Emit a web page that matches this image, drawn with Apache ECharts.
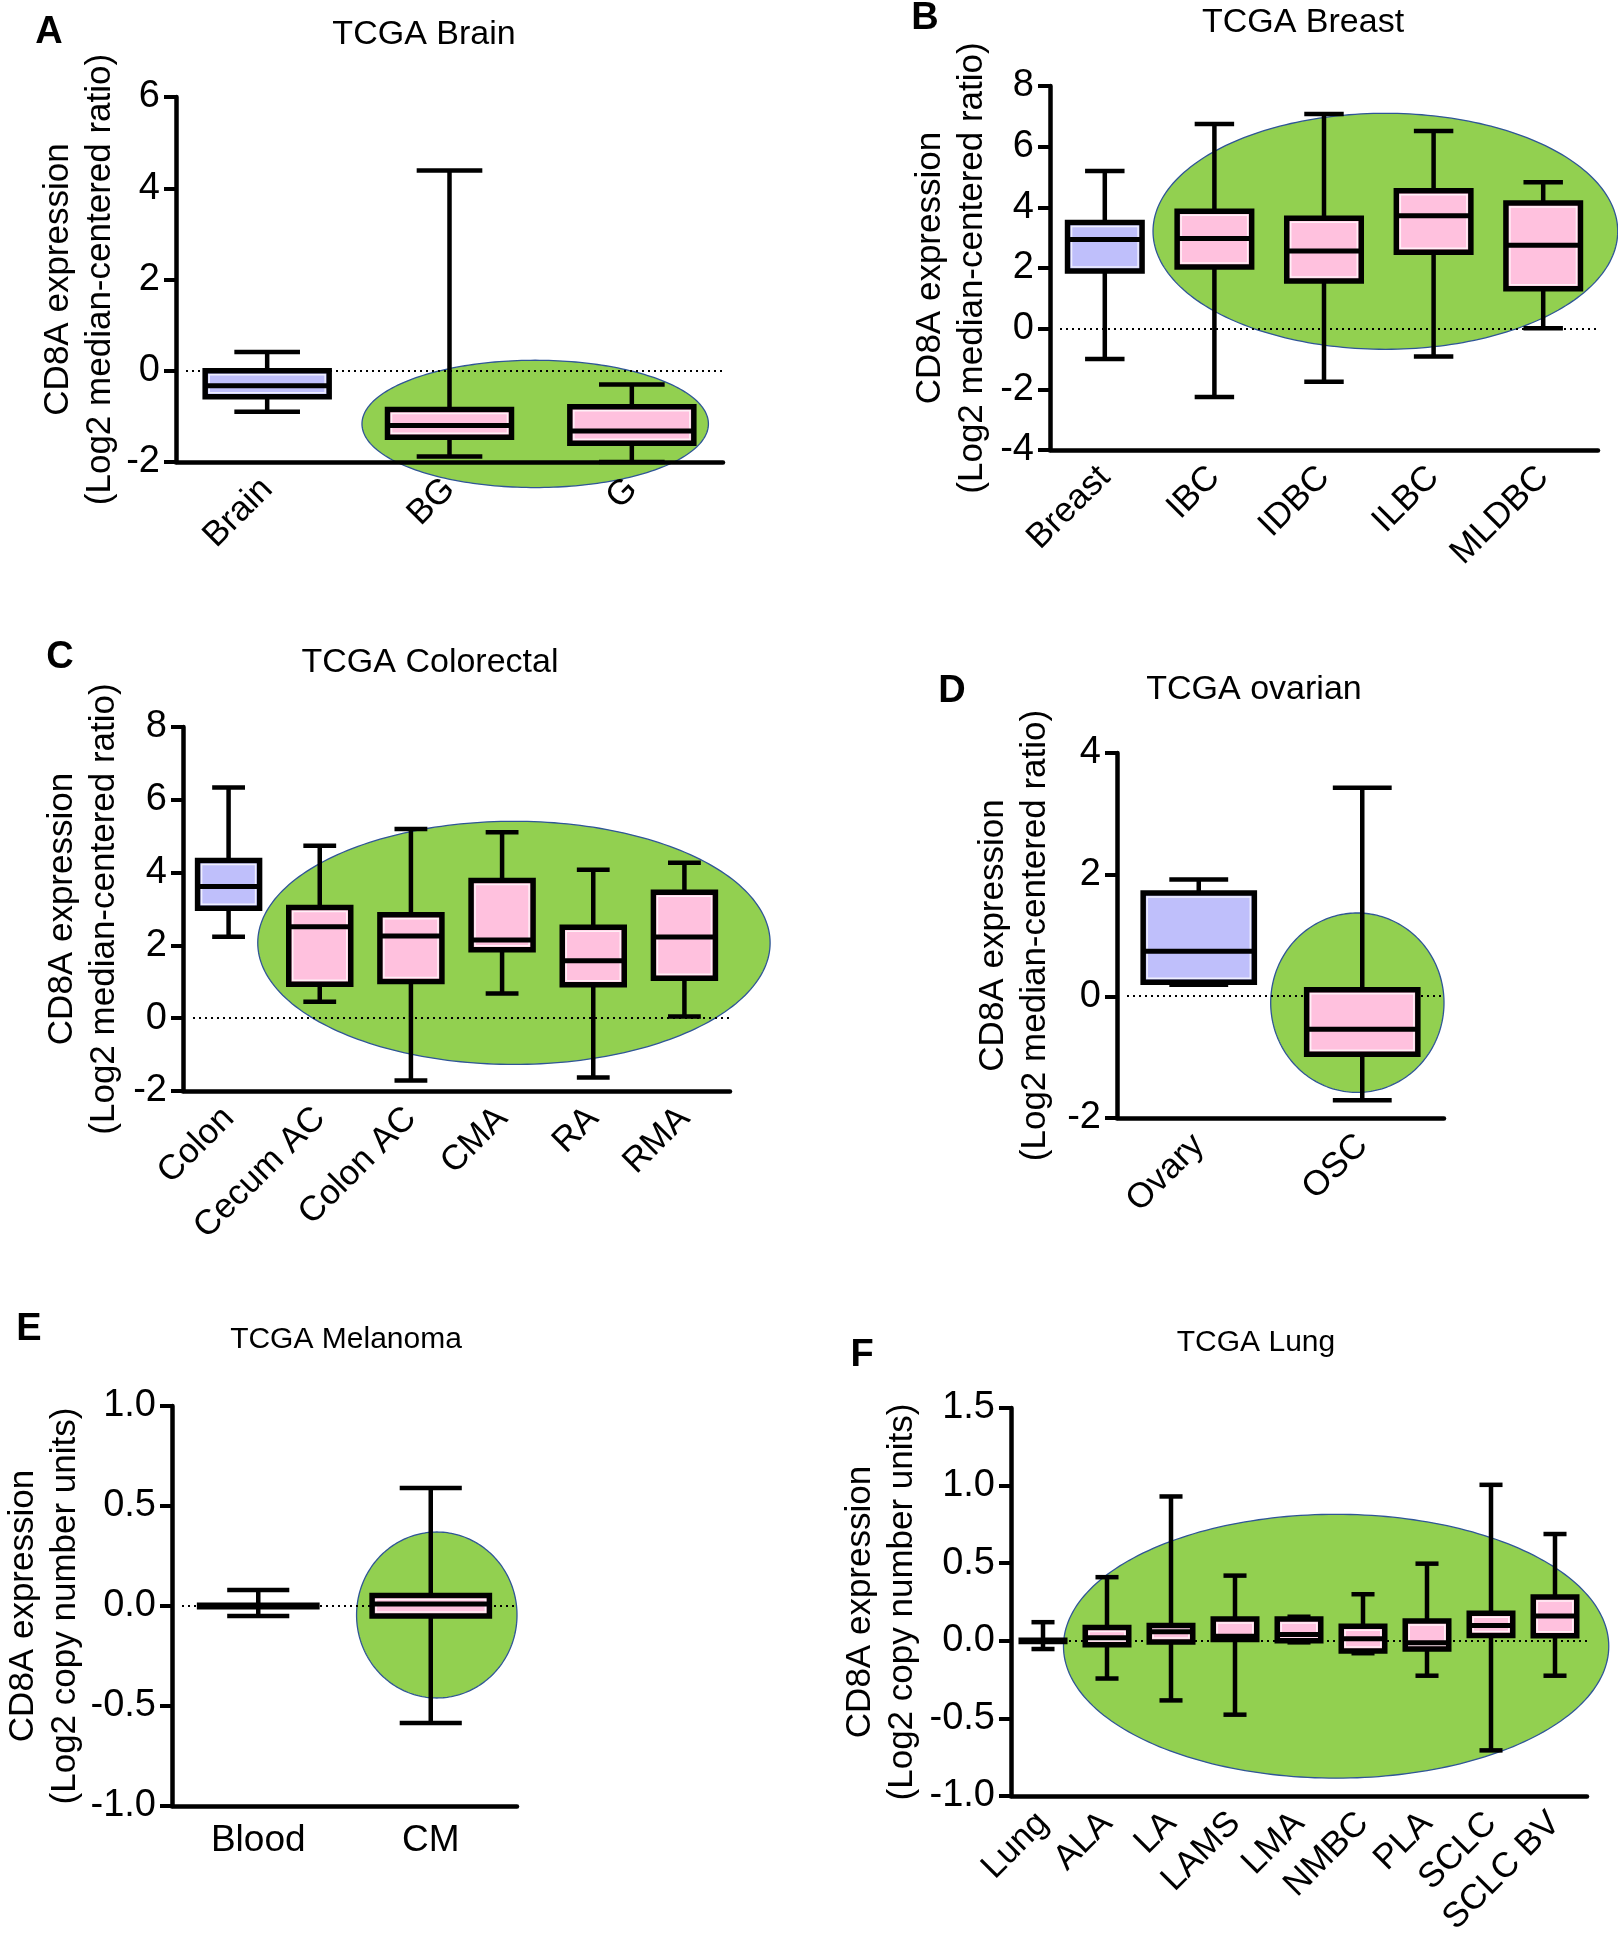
<!DOCTYPE html>
<html>
<head>
<meta charset="utf-8">
<script src="https://cdn.jsdelivr.net/npm/echarts@6/dist/echarts.min.js"></script>
<style>
html, body { margin: 0; padding: 0; background: #fff; }
#main { width: 1618px; height: 1950px; }
</style>
</head>
<body>
<div id="main"></div>
<script>
// box values are [min, q1, median, q3, max]
var brainCats = ['Brain', 'BG', 'G'];
var brainBoxes = [
    [-0.90, -0.57, -0.33, 0.00, 0.41],
    [-1.88, -1.46, -1.20, -0.85, 4.39],
    [-2.00, -1.59, -1.32, -0.79, -0.30]
];
var breastCats = ['Breast', 'IBC', 'IDBC', 'ILBC', 'MLDBC'];
var breastBoxes = [
    [-1.00, 1.90, 2.94, 3.50, 5.20],
    [-2.25, 2.03, 2.97, 3.87, 6.75],
    [-1.75, 1.57, 2.56, 3.64, 7.08],
    [-0.92, 2.52, 3.72, 4.55, 6.52],
    [0.01, 1.32, 2.75, 4.14, 4.83]
];
var colorectalCats = ['Colon', 'Cecum AC', 'Colon AC', 'CMA', 'RA', 'RMA'];
var colorectalBoxes = [
    [2.24, 3.02, 3.62, 4.33, 6.34],
    [0.45, 0.93, 2.51, 3.04, 4.74],
    [-1.71, 1.01, 2.26, 2.84, 5.20],
    [0.68, 1.88, 2.15, 3.78, 5.11],
    [-1.63, 0.92, 1.58, 2.50, 4.08],
    [0.05, 1.10, 2.23, 3.46, 4.27]
];
var ovarianCats = ['Ovary', 'OSC'];
var ovarianBoxes = [
    [0.19, 0.23, 0.74, 1.70, 1.92],
    [-1.71, -0.95, -0.54, 0.11, 3.43]
];
var melanomaCats = ['Blood', 'CM'];
var melanomaBoxes = [
    [-0.05, -0.004, 0.00, 0.004, 0.08],
    [-0.585, -0.05, 0.01, 0.052, 0.59]
];
var lungCats = ['Lung', 'ALA', 'LA', 'LAMS', 'LMA', 'NMBC', 'PLA', 'SCLC', 'SCLC BV'];
var lungBoxes = [
    [-0.053, -0.004, 0.00, 0.004, 0.12],
    [-0.243, -0.026, 0.02, 0.085, 0.41],
    [-0.384, -0.008, 0.058, 0.098, 0.93],
    [-0.476, 0.008, 0.03, 0.14, 0.42],
    [-0.01, 0.00, 0.04, 0.14, 0.155],
    [-0.08, -0.066, 0.013, 0.093, 0.30],
    [-0.225, -0.053, -0.013, 0.127, 0.497],
    [-0.706, 0.034, 0.098, 0.177, 1.005],
    [-0.225, 0.032, 0.159, 0.283, 0.688]
];
// green highlight ovals: [from index, to index, top value, bottom value]
var brainOval = [0.52, 2.42, 0.23, -2.56];
var breastOval = [0.44, 4.68, 7.10, -0.68];
var colorectalOval = [0.32, 5.94, 5.41, -1.27];
var ovarianOval = [0.44, 1.50, 1.37, -1.58];
var melanomaOval = [0.57, 1.50, 0.37, -0.46];
var lungOval = [0.32, 8.84, 0.815, -0.885];

var FONT = '"Liberation Sans", Arial, Helvetica, sans-serif';
var BLUE = '#bfbffb', PINK = '#ffc1de', GREEN = '#92d050', EDGE = '#2f5597';

var panels = [
    { letter: 'A', title: 'TCGA Brain', cats: brainCats, boxes: brainBoxes, oval: brainOval,
      grid: { left: 176, top: 97, width: 547, height: 365 }, y: [-2, 6, 2], dec: 0,
      name: 'CD8A expression\n(Log2 median-centered ratio)', gap: 55, rot: 45,
      lpos: [49, 33], tpos: [424, 35], tsize: 34 },
    { letter: 'B', title: 'TCGA Breast', cats: breastCats, boxes: breastBoxes, oval: breastOval,
      grid: { left: 1050, top: 86, width: 548, height: 364 }, y: [-4, 8, 2], dec: 0,
      name: 'CD8A expression\n(Log2 median-centered ratio)', gap: 57, rot: 45,
      lpos: [925, 19], tpos: [1303, 23], tsize: 34 },
    { letter: 'C', title: 'TCGA Colorectal', cats: colorectalCats, boxes: colorectalBoxes, oval: colorectalOval,
      grid: { left: 183, top: 727, width: 547, height: 364 }, y: [-2, 8, 2], dec: 0,
      name: 'CD8A expression\n(Log2 median-centered ratio)', gap: 58, rot: 45,
      lpos: [60, 658], tpos: [430, 663], tsize: 34 },
    { letter: 'D', title: 'TCGA ovarian', cats: ovarianCats, boxes: ovarianBoxes, oval: ovarianOval,
      grid: { left: 1117, top: 753, width: 327, height: 365 }, y: [-2, 4, 2], dec: 0,
      name: 'CD8A expression\n(Log2 median-centered ratio)', gap: 61, rot: 45,
      lpos: [952, 692], tpos: [1254, 690], tsize: 34 },
    { letter: 'E', title: 'TCGA Melanoma', cats: melanomaCats, boxes: melanomaBoxes, oval: melanomaOval,
      grid: { left: 172, top: 1406, width: 345, height: 400 }, y: [-1, 1, 0.5], dec: 1,
      name: 'CD8A expression\n(Log2 copy number units)', gap: 84, rot: 0,
      lpos: [29, 1330], tpos: [346, 1340], tsize: 30 },
    { letter: 'F', title: 'TCGA Lung', cats: lungCats, boxes: lungBoxes, oval: lungOval,
      grid: { left: 1011, top: 1408, width: 576, height: 388 }, y: [-1, 1.5, 0.5], dec: 1,
      name: 'CD8A expression\n(Log2 copy number units)', gap: 88, rot: 45,
      lpos: [862, 1356], tpos: [1256, 1343], tsize: 30 }
];

function boxItem(params, api) {
    var i = api.value(0);
    var band = api.size([1, 0])[0];
    var lo = api.coord([i, api.value(1)]);
    var q1 = api.coord([i, api.value(2)]);
    var md = api.coord([i, api.value(3)]);
    var q3 = api.coord([i, api.value(4)]);
    var hi = api.coord([i, api.value(5)]);
    var x = lo[0], hb = band * 0.34, hc = band * 0.18;
    var ln = { stroke: '#000', lineWidth: 4.5 };
    var h = Math.max(q1[1] - q3[1], 1);
    var kids = [
        { type: 'line', shape: { x1: x, y1: hi[1], x2: x, y2: lo[1] }, style: ln },
        { type: 'line', shape: { x1: x - hc, y1: hi[1], x2: x + hc, y2: hi[1] }, style: ln },
        { type: 'line', shape: { x1: x - hc, y1: lo[1], x2: x + hc, y2: lo[1] }, style: ln },
        { type: 'rect', shape: { x: x - hb, y: q3[1], width: 2 * hb, height: h },
          style: { fill: i === 0 ? BLUE : PINK, stroke: '#000', lineWidth: 5.5 } }
    ];
    // faint light rim just inside the box outline
    if (h > 12) {
        kids.push({ type: 'rect', shape: { x: x - hb + 4, y: q3[1] + 4, width: 2 * hb - 8, height: h - 8 },
                    style: { fill: null, stroke: 'rgba(255,255,255,0.75)', lineWidth: 1.5 } });
    }
    kids.push({ type: 'line', shape: { x1: x - hb, y1: md[1], x2: x + hb, y2: md[1] }, style: { stroke: '#000', lineWidth: 5 } });
    return { type: 'group', children: kids };
}

function ovalItem(oval) {
    return function (params, api) {
        var a = api.coord([0, oval[2]]);
        var b = api.coord([1, oval[3]]);
        var band = b[0] - a[0];
        var x0 = a[0] + band * oval[0], x1 = a[0] + band * oval[1];
        var cx = (x0 + x1) / 2, cy = (a[1] + b[1]) / 2;
        var rx = (x1 - x0) / 2, ry = (b[1] - a[1]) / 2;
        var pts = [];
        for (var k = 0; k < 240; k++) {
            var t = k / 240 * Math.PI * 2;
            pts.push([cx + rx * Math.cos(t), cy + ry * Math.sin(t)]);
        }
        var kids = [{ type: 'polygon', shape: { points: pts }, style: { fill: GREEN, stroke: EDGE, lineWidth: 1.3 } }];
        // dotted zero line across the plot
        var cs = params.coordSys;
        var zy = Math.round(api.coord([0, 0])[1]) - 1;
        for (var d = Math.round(cs.x) + 10; d < cs.x + cs.width; d += 6) {
            kids.push({ type: 'rect', shape: { x: d, y: zy, width: 2, height: 2 }, style: { fill: '#000' } });
        }
        return { type: 'group', children: kids };
    };
}

var option = { animation: false, backgroundColor: '#fff', grid: [], xAxis: [], yAxis: [], series: [], graphic: [] };

panels.forEach(function (p, gi) {
    option.grid.push(p.grid);
    option.xAxis.push({
        type: 'category', gridIndex: gi, data: p.cats, z: 5,
        axisLine: { onZero: false, lineStyle: { color: '#000', width: 4.5 } },
        axisTick: { alignWithLabel: true, length: 12, lineStyle: { color: '#000', width: 4 } },
        axisLabel: { interval: 0, rotate: p.rot, color: '#000', fontFamily: FONT,
                     fontSize: p.rot ? 35 : 37, margin: p.rot ? 22 : 16 }
    });
    option.yAxis.push({
        type: 'value', gridIndex: gi, min: p.y[0], max: p.y[1], interval: p.y[2], z: 5,
        splitLine: { show: false },
        axisLine: { show: true, onZero: false, lineStyle: { color: '#000', width: 4.5 } },
        axisTick: { show: true, length: 12, lineStyle: { color: '#000', width: 4 } },
        axisLabel: { color: '#000', fontFamily: FONT, fontSize: 38, margin: 16,
                     formatter: function (v) { return p.dec ? v.toFixed(1) : String(v); } },
        name: p.name, nameLocation: 'middle', nameRotate: 90, nameGap: p.gap,
        nameTextStyle: { color: '#000', fontFamily: FONT, fontSize: 35, lineHeight: 42, align: 'center' }
    });
    option.series.push({
        type: 'custom', xAxisIndex: gi, yAxisIndex: gi, z: 1, silent: true,
        renderItem: ovalItem(p.oval), data: [[0, 0]]
    });
    option.series.push({
        type: 'custom', xAxisIndex: gi, yAxisIndex: gi, z: 3,
        encode: { x: 0, y: [1, 2, 3, 4, 5] },
        renderItem: boxItem,
        data: p.boxes.map(function (b, i) { return [i].concat(b); })
    });
    option.graphic.push({
        type: 'text', x: p.lpos[0], y: p.lpos[1],
        style: { text: p.letter, font: 'bold 38px ' + FONT, fill: '#000', textAlign: 'center', textVerticalAlign: 'middle' }
    });
    option.graphic.push({
        type: 'text', x: p.tpos[0], y: p.tpos[1],
        style: { text: p.title, font: p.tsize + 'px ' + FONT, fill: '#000', textAlign: 'center', textVerticalAlign: 'middle' }
    });
});

var chart = echarts.init(document.getElementById('main'), null, { renderer: 'canvas' });
chart.setOption(option);
</script>
</body>
</html>
